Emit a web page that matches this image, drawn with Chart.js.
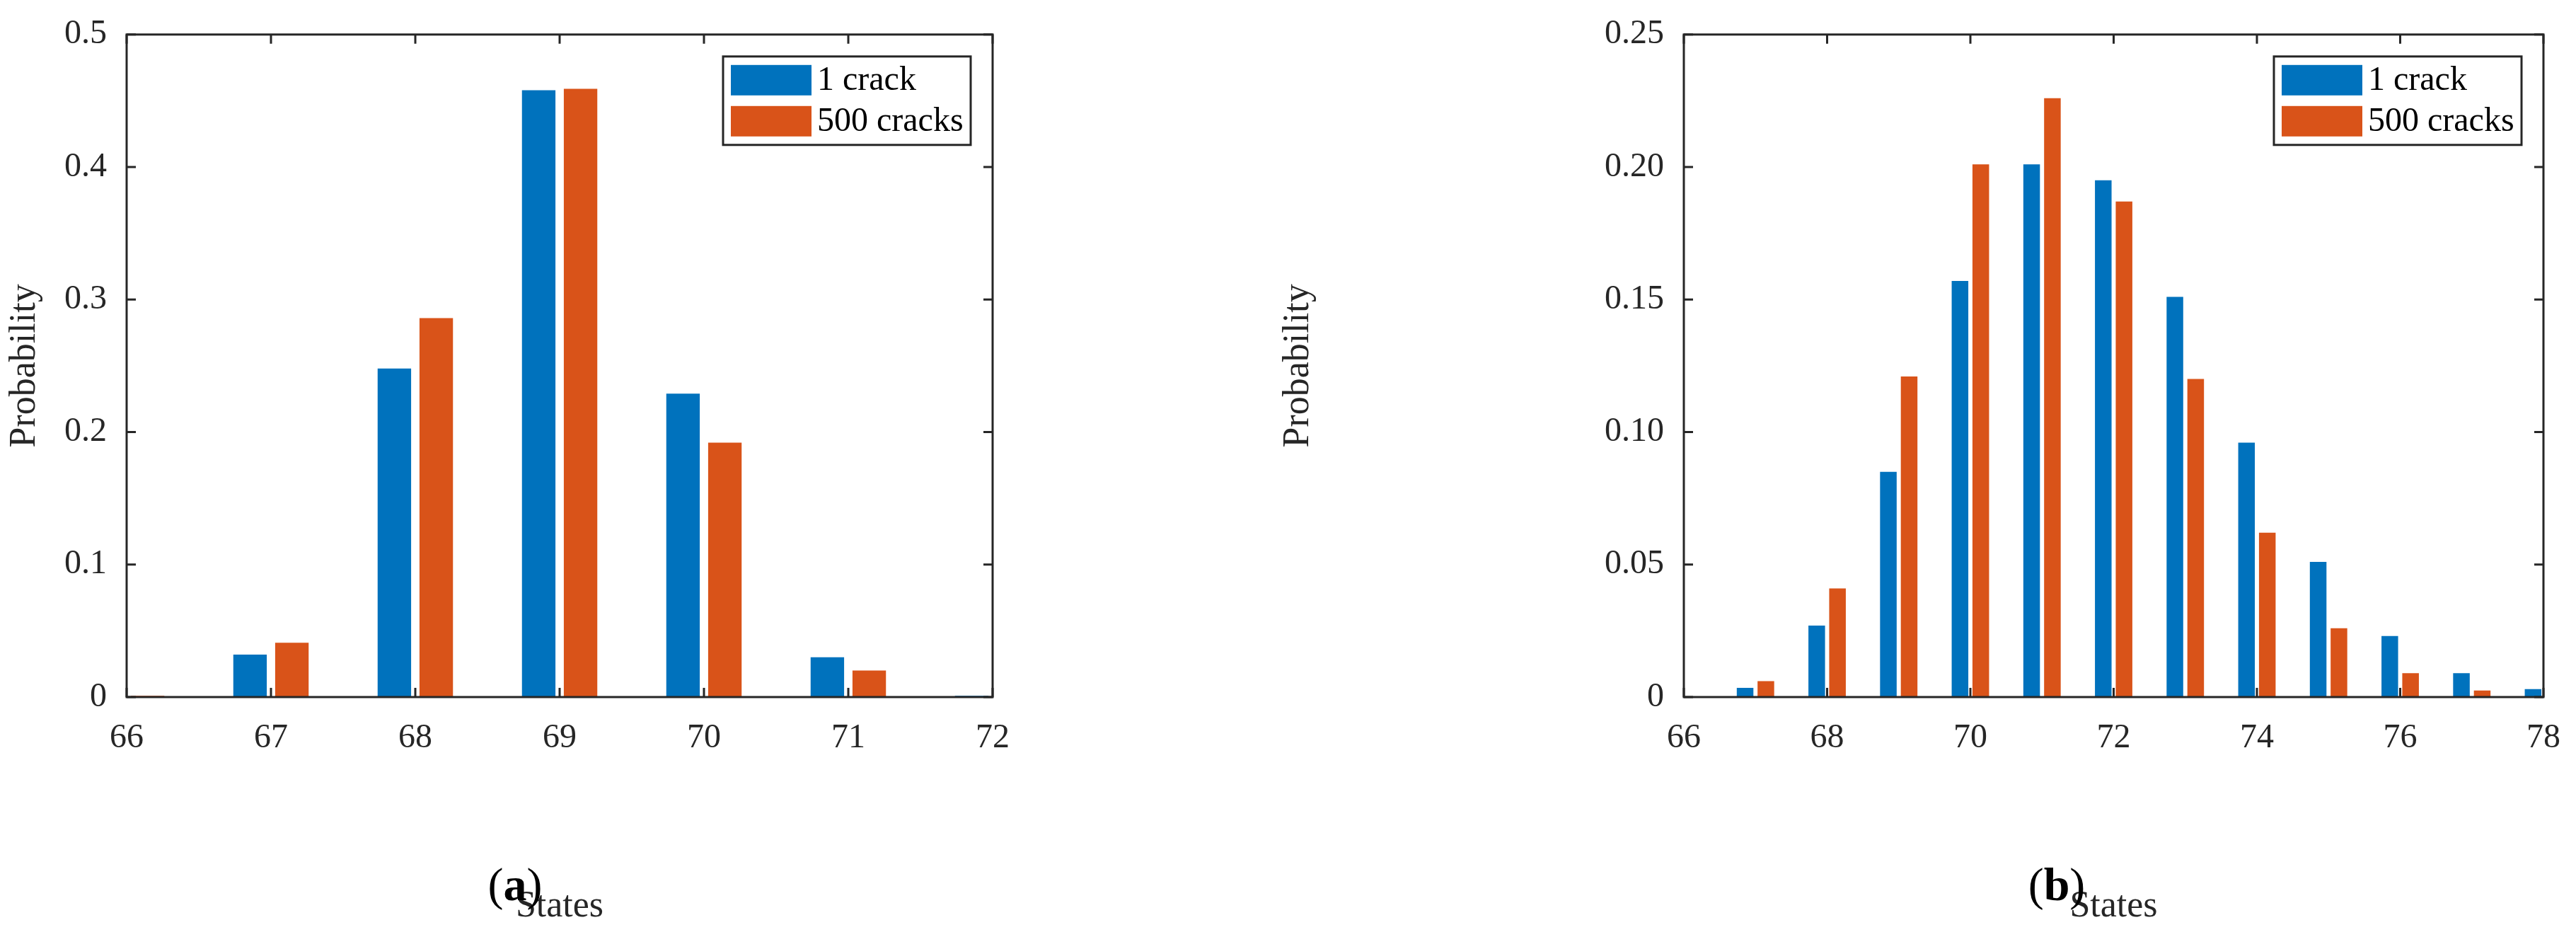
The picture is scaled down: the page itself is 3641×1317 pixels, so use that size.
<!DOCTYPE html>
<html>
<head>
<meta charset="utf-8">
<script src="https://cdn.jsdelivr.net/npm/chart.js@4/dist/chart.umd.min.js"></script>
<style>
  body { margin: 0; width: 3641px; height: 1317px; background: #fff; position: relative; overflow: hidden; }
  .box { position: absolute; top: 0; height: 1317px; }
  .cap { position: absolute; top: 1212px; font-family: "Liberation Serif", serif; font-size: 66px; color: #000; transform: translateX(-50%); }
</style>
</head>
<body>
<div class="box" style="left:0;width:1500px"><canvas id="chartA"></canvas></div>
<div class="box" style="left:1800px;width:1841px"><canvas id="chartB"></canvas></div>
<div class="cap" style="left:728px">(<b>a</b>)</div>
<div class="cap" style="left:2907px">(<b>b</b>)</div>
<script>
// (a)
const statesA = ['66', '67', '68', '69', '70', '71', '72'];
const oneCrackA = [0, 0.032, 0.248, 0.458, 0.229, 0.030, 0.001];
const manyCracksA = [0.001, 0.041, 0.286, 0.459, 0.192, 0.020, 0];
const yTicksA = { min: 0, max: 0.5, step: 0.1 };

// (b)
const statesB = ['66', '67', '68', '69', '70', '71', '72', '73', '74', '75', '76', '77', '78'];
const oneCrackB = [0, 0.0035, 0.027, 0.085, 0.157, 0.201, 0.195, 0.151, 0.096, 0.051, 0.023, 0.009, 0.003];
const manyCracksB = [0, 0.006, 0.041, 0.121, 0.201, 0.226, 0.187, 0.120, 0.062, 0.026, 0.009, 0.0025, 0];
const yTicksB = { min: 0, max: 0.25, step: 0.05 };

const seriesNames = ['1 crack', '500 cracks'];
const seriesColors = ['#0072BD', '#D95319'];
const FONT = '"Liberation Serif", serif';
const INK = '#262626';

// box + inside ticks + legend, MATLAB style
const matlabAxes = {
    id: 'matlabAxes',
    afterDraw(chart) {
        const ctx = chart.ctx;
        const a = chart.chartArea;
        const L = 13;
        ctx.save();
        ctx.strokeStyle = INK;
        ctx.lineWidth = 3;
        ctx.beginPath();
        chart.scales.x.ticks.forEach((t, i) => {
            if (chart.options.scales.x.ticks.callback(t.value, i) === '') return;
            const px = chart.scales.x.getPixelForTick(i);
            ctx.moveTo(px, a.bottom); ctx.lineTo(px, a.bottom - L);
            ctx.moveTo(px, a.top); ctx.lineTo(px, a.top + L);
        });
        chart.scales.y.ticks.forEach(t => {
            const py = chart.scales.y.getPixelForValue(t.value);
            ctx.moveTo(a.left, py); ctx.lineTo(a.left + L, py);
            ctx.moveTo(a.right, py); ctx.lineTo(a.right - L, py);
        });
        ctx.stroke();
        ctx.strokeRect(a.left, a.top, a.right - a.left, a.bottom - a.top);

        // legend
        const w = 350, h = 125;
        const lx = a.right - 31 - w, ly = a.top + 31;
        ctx.fillStyle = '#fff';
        ctx.fillRect(lx, ly, w, h);
        ctx.strokeRect(lx, ly, w, h);
        ctx.font = '48px ' + FONT;
        ctx.textBaseline = 'middle';
        chart.data.datasets.forEach((ds, i) => {
            const sy = ly + 12 + i * 58;
            ctx.fillStyle = ds.backgroundColor;
            ctx.fillRect(lx + 11, sy, 114, 43);
            ctx.fillStyle = '#000';
            ctx.fillText(ds.label, lx + 133, sy + 23);
        });
        ctx.restore();
    }
};

function makeChart(id, states, one, many, yt, axisWidth, padRight, everyOther) {
    const tickCb = (v, i) => (everyOther && i % 2 === 1) ? '' : states[i];
    return new Chart(document.getElementById(id), {
        type: 'bar',
        data: {
            labels: states,
            datasets: [
                { label: seriesNames[0], data: one, backgroundColor: seriesColors[0] },
                { label: seriesNames[1], data: many, backgroundColor: seriesColors[1] }
            ]
        },
        options: {
            responsive: true,
            maintainAspectRatio: false,
            animation: false,
            categoryPercentage: 0.58,
            barPercentage: 0.8,
            layout: { padding: { top: 42, right: padRight, bottom: 0, left: 0 } },
            plugins: { legend: { display: false }, tooltip: { enabled: false } },
            scales: {
                x: {
                    offset: false,
                    grid: { display: false },
                    border: { display: false },
                    ticks: { autoSkip: false, maxRotation: 0, padding: 22, color: INK, font: { family: FONT, size: 48 }, callback: tickCb },
                    title: { display: true, text: 'States', color: INK, font: { family: FONT, size: 52 }, padding: { top: 10 } },
                    afterFit(s) { s.height = 332; }
                },
                y: {
                    min: yt.min, max: yt.max,
                    grid: { display: false },
                    border: { display: false },
                    ticks: { stepSize: yt.step, padding: 20, color: INK, font: { family: FONT, size: 48 } },
                    title: { display: true, text: 'Probability', color: INK, font: { family: FONT, size: 52 }, padding: { bottom: 6 } },
                    afterFit(s) { s.width = axisWidth; }
                }
            }
        },
        plugins: [matlabAxes]
    });
}

makeChart('chartA', statesA, oneCrackA, manyCracksA, yTicksA, 179, 97, false);
makeChart('chartB', statesB, oneCrackB, manyCracksB, yTicksB, 580, 38, true);
</script>
</body>
</html>
